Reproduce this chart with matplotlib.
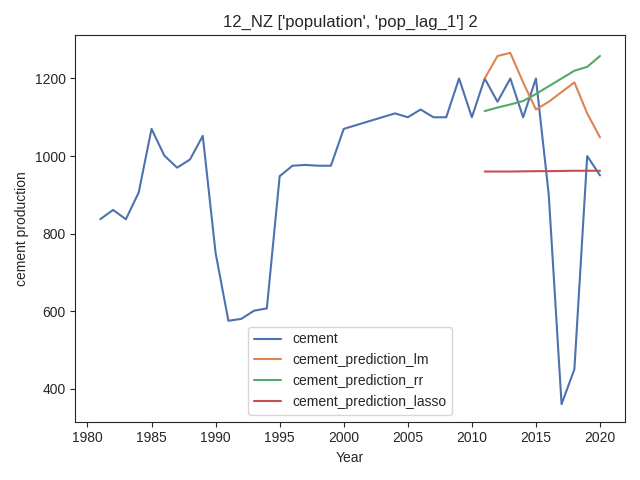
import matplotlib
matplotlib.use("Agg")
import matplotlib.pyplot as plt
import seaborn as sns

sns.set_style("ticks")
sns.set_palette("deep")
plt.rcParams['font.family'] = ['Liberation Sans', 'DejaVu Sans']

years = list(range(1981, 2021))
cement = [837, 861, 837, 906, 1070, 1001, 970, 991, 1052, 750,
          575, 580, 601, 607, 948, 975, 977, 975, 975, 1070,
          1080, 1090, 1100, 1110, 1100, 1120, 1100, 1100, 1200, 1100,
          1200, 1140, 1200, 1100, 1200, 900, 360, 450, 1000, 950]

pred_years = list(range(2011, 2021))
pred_lm = [1200, 1258, 1266, 1190, 1120, 1140, 1165, 1190, 1110, 1048]
pred_rr = [1116, 1125, 1133, 1142, 1160, 1180, 1200, 1220, 1230, 1258]
pred_lasso = [960, 960, 960, 960.5, 961, 961, 961.5, 962, 962, 962]

fig, ax = plt.subplots(figsize=(6.4, 4.8), dpi=100)
ax.plot(years, cement, label="cement")
ax.plot(pred_years, pred_lm, label="cement_prediction_lm")
ax.plot(pred_years, pred_rr, label="cement_prediction_rr")
ax.plot(pred_years, pred_lasso, label="cement_prediction_lasso")
ax.set_title("12_NZ ['population', 'pop_lag_1'] 2")
ax.set_xlabel("Year")
ax.set_ylabel("cement production")
ax.legend(loc="lower center")
fig.tight_layout()
fig.savefig("out.png")
